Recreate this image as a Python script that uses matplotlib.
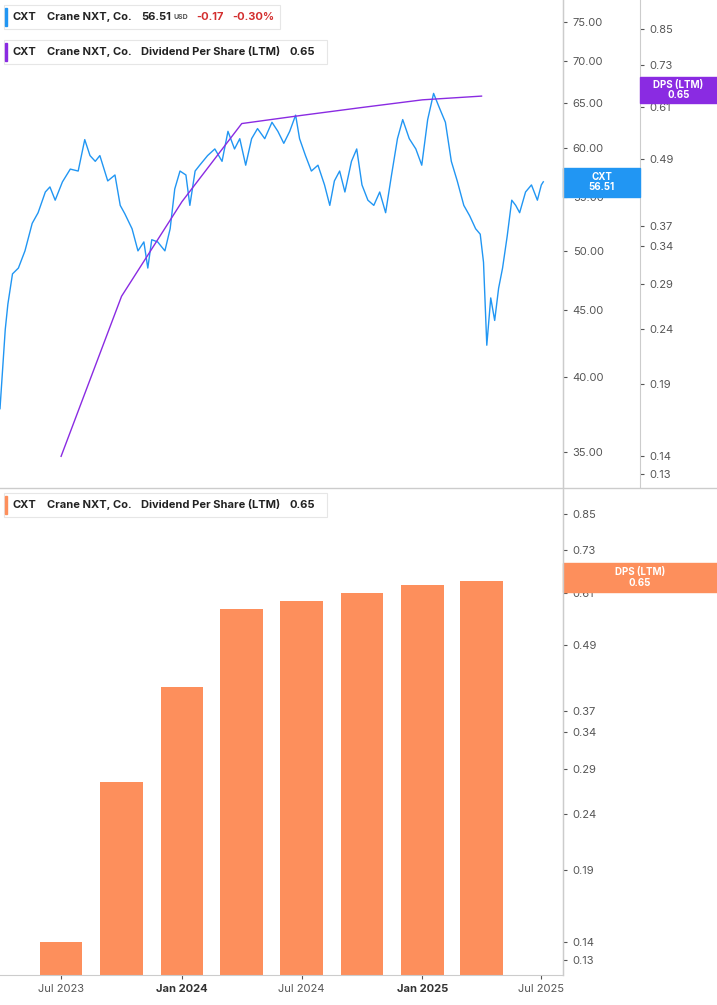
import datetime as dt
import numpy as np
import matplotlib.pyplot as plt
import matplotlib.dates as mdates
from matplotlib.ticker import FixedLocator, NullLocator

plt.rcParams['font.family'] = 'Inter'

base = dt.datetime(2023, 7, 1)

# price, days from 2023-07-01
price_days = [-93, -85, -81, -74, -65, -55, -44, -35, -24, -17, -9, 2, 14, 26, 36, 44, 52, 59,
              71, 82, 90, 97, 108, 117, 126, 132, 138, 147, 158, 166, 173, 181, 190, 196, 204,
              211, 223, 234, 245, 254, 264, 272, 281, 290, 299, 310, 321, 330, 339, 348, 357,
              363, 372, 381, 391, 401, 409, 416, 424, 432, 442, 450, 458, 467, 476, 485, 494,
              503, 512, 520, 530, 540, 549, 558, 567, 576, 585, 594, 603, 613, 622, 631, 638,
              643, 648, 654, 660, 666, 672, 679, 686, 692, 698, 707, 716, 725, 731, 734]
prices = [37.8, 43.5, 45.5, 48.0, 48.5, 50.0, 52.5, 53.5, 55.5, 56.0, 54.7, 56.5, 57.8, 57.6,
          60.9, 59.2, 58.6, 59.2, 56.6, 57.2, 54.2, 53.4, 52.0, 50.0, 50.8, 48.5, 51.0, 50.8,
          50.0, 52.0, 55.8, 57.6, 57.2, 54.2, 57.6, 58.2, 59.2, 59.9, 58.6, 61.8, 59.9, 61.0,
          58.2, 61.0, 62.1, 61.0, 62.8, 61.8, 60.5, 61.8, 63.6, 61.0, 59.2, 57.6, 58.2, 56.2,
          54.2, 56.6, 57.6, 55.5, 58.6, 59.9, 56.2, 54.7, 54.2, 55.5, 53.5, 57.2, 61.0, 63.1,
          61.0, 59.9, 58.2, 63.1, 66.1, 64.4, 62.8, 58.6, 56.6, 54.2, 53.2, 52.0, 51.5, 49.0,
          42.3, 46.0, 44.2, 46.8, 48.5, 51.3, 54.7, 54.2, 53.5, 55.5, 56.2, 54.7, 56.2, 56.51]
price_dates = [base + dt.timedelta(days=d) for d in price_days]

dps_dates = [dt.datetime(2023, 7, 1), dt.datetime(2023, 10, 1), dt.datetime(2024, 1, 1),
             dt.datetime(2024, 4, 1), dt.datetime(2024, 7, 1), dt.datetime(2024, 10, 1),
             dt.datetime(2025, 1, 1), dt.datetime(2025, 4, 1)]
dps = [0.14, 0.275, 0.41, 0.57, 0.59, 0.61, 0.63, 0.64]

price_ticks = [35, 40, 45, 50, 55, 60, 65, 70, 75]
dps_ticks = [0.13, 0.14, 0.19, 0.24, 0.29, 0.34, 0.37, 0.49, 0.61, 0.73, 0.85]
x_ticks = [dt.datetime(2023, 7, 1), dt.datetime(2024, 1, 1), dt.datetime(2024, 7, 1),
           dt.datetime(2025, 1, 1), dt.datetime(2025, 7, 1)]
x_labels = ['Jul 2023', 'Jan 2024', 'Jul 2024', 'Jan 2025', 'Jul 2025']

W, H = 717, 1005
fig = plt.figure(figsize=(W / 100, H / 100), dpi=100)
xl = (dt.datetime(2023, 3, 30), dt.datetime(2025, 8, 3))
blue = '#2196f3'
purple = '#8a2be2'
orange = '#fd8f5c'
grey = '#555555'

def style(a):
    for s in ['top', 'left', 'bottom']:
        a.spines[s].set_visible(False)
    a.spines['right'].set_color('#cccccc')
    a.tick_params(axis='y', labelsize=8, colors=grey, length=3, pad=4)

# top panel
ax = fig.add_axes([0, 1 - 487 / H, 563 / W, 487 / H])
style(ax)
ax.plot(price_dates, prices, color=blue, lw=1)
ax.set_yscale('log')
ax.set_ylim(32.9, 78)
ax.set_xlim(*xl)
ax.set_xticks([])

ax2 = ax.twinx()
style(ax2)
ax2.spines['right'].set_position(('axes', 640 / 563))
ax2.plot(dps_dates, dps, color=purple, lw=1)
ax2.set_yscale('log')
ax2.set_ylim(0.123, 0.96)
ax2.yaxis.set_major_locator(FixedLocator(dps_ticks))
ax2.set_yticklabels(['%.2f' % v for v in dps_ticks])
ax2.yaxis.set_minor_locator(NullLocator())
ax2.set_xlim(*xl)

# price axis labels on the right (after twinx)
ax.yaxis.set_major_locator(FixedLocator(price_ticks))
ax.set_yticklabels(['%.2f' % v for v in price_ticks])
ax.yaxis.set_minor_locator(NullLocator())
ax.tick_params(axis='y', left=False, labelleft=False, right=True, labelright=True)

# bottom panel
bx = fig.add_axes([0, 1 - 975 / H, 563 / W, 485 / H])
style(bx)
bx.bar(dps_dates, [v - 0.01 for v in dps], width=65, color=orange, bottom=0.01)
bx.set_yscale('log')
bx.set_ylim(0.122, 0.94)
bx.set_xlim(*xl)
bx.yaxis.tick_right()
bx.yaxis.set_major_locator(FixedLocator(dps_ticks))
bx.set_yticklabels(['%.2f' % v for v in dps_ticks])
bx.yaxis.set_minor_locator(NullLocator())
bx.set_xticks(x_ticks)
bx.set_xticklabels(x_labels)
bx.tick_params(axis='x', labelsize=8, colors=grey, length=3)
for lbl in bx.get_xticklabels():
    if lbl.get_text().startswith('Jan'):
        lbl.set_fontweight('bold')
        lbl.set_color('#333333')
bx.spines['bottom'].set_visible(True)
bx.spines['bottom'].set_color('#cccccc')

# separators
fig.add_artist(plt.Line2D([0, 1], [1 - 488 / H] * 2, color='#cccccc', lw=1))
fig.add_artist(plt.Line2D([563 / W] * 2, [1 - 975 / H, 1], color='#cccccc', lw=1))

# right-side value labels
def tag(x0, x1, y0, y1, color, txt):
    fig.add_artist(plt.Rectangle((x0 / W, 1 - y1 / H), (x1 - x0) / W, (y1 - y0) / H,
                                 color=color, transform=fig.transFigure))
    fig.text((x0 + x1) / 2 / W, 1 - (y0 + y1) / 2 / H, txt, color='white', fontsize=7,
             fontweight='bold', ha='center', va='center', linespacing=1.0)

tag(563, 640, 168, 197, blue, 'CXT\n56.51')
tag(640, 717, 77, 103, purple, 'DPS (LTM)\n0.65')
tag(563, 717, 563, 592, orange, 'DPS (LTM)\n0.65')

# legend boxes
def legend(y, color, parts, x1):
    fig.add_artist(plt.Rectangle((4 / W, 1 - (y + 12) / H), (x1 - 4) / W, 24 / H,
                                 facecolor='white', edgecolor='#e6e6e6', lw=0.8,
                                 transform=fig.transFigure, zorder=5))
    fig.add_artist(plt.Rectangle((5 / W, 1 - (y + 9) / H), 2 / W, 18 / H,
                                 color=color, transform=fig.transFigure, zorder=6))
    for x, t, c, fs in parts:
        fig.text(x / W, 1 - y / H, t, color=c, fontsize=fs, fontweight='bold',
                 va='center', zorder=7)

legend(17, blue, [(13, 'CXT', '#222222', 8), (47, 'Crane NXT, Co.', '#222222', 8),
                  (141, '56.51', '#222222', 8), (174, 'USD', '#555555', 5),
                  (196, '-0.17', '#d32f2f', 8), (232, '-0.30%', '#d32f2f', 8)], 280)
legend(52, purple, [(13, 'CXT', '#222222', 8), (47, 'Crane NXT, Co.', '#222222', 8),
                    (141, 'Dividend Per Share (LTM)', '#222222', 8),
                    (290, '0.65', '#222222', 8)], 327)
legend(505, orange, [(13, 'CXT', '#222222', 8), (47, 'Crane NXT, Co.', '#222222', 8),
                     (141, 'Dividend Per Share (LTM)', '#222222', 8),
                     (290, '0.65', '#222222', 8)], 327)

fig.savefig('out.png', dpi=100)
